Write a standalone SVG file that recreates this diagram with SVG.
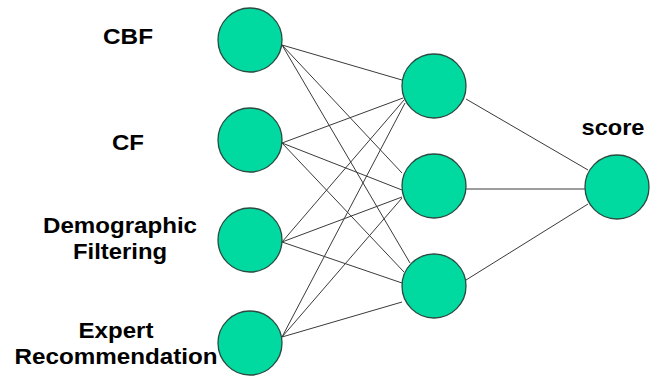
<svg xmlns="http://www.w3.org/2000/svg" width="660" height="376" viewBox="0 0 660 376">
<style>
.n{fill:#00D9A0;stroke:#2B4A40;stroke-width:1.3}
.t{font-family:"Liberation Sans",Arial,sans-serif;font-weight:bold;font-size:22px;fill:#000;text-anchor:middle}
.c line{stroke:#3a3a3a;stroke-width:1}
</style>
<rect width="660" height="376" fill="#fff"/>
<g class="c" id="connectors">
<line x1="282" y1="45" x2="402" y2="80"/>
<line x1="282" y1="45" x2="402" y2="173"/>
<line x1="282" y1="45" x2="410" y2="263"/>
<line x1="282" y1="143" x2="403" y2="98"/>
<line x1="282" y1="143" x2="402" y2="190"/>
<line x1="282" y1="143" x2="404" y2="272"/>
<line x1="282" y1="242" x2="404" y2="100"/>
<line x1="282" y1="242" x2="402" y2="197"/>
<line x1="282" y1="242" x2="402" y2="283"/>
<line x1="282" y1="337" x2="405" y2="103"/>
<line x1="282" y1="337" x2="402" y2="198"/>
<line x1="282" y1="337" x2="402" y2="302"/>
<line x1="466" y1="99" x2="588" y2="170"/>
<line x1="466" y1="189" x2="585" y2="189"/>
<line x1="466" y1="280" x2="588" y2="204"/>
</g>
<g id="in-cbf"><circle class="n" cx="250" cy="40" r="32"/><text class="t" x="128" y="44" textLength="50" lengthAdjust="spacingAndGlyphs">CBF</text></g>
<g id="in-cf"><circle class="n" cx="250" cy="140" r="32"/><text class="t" x="128" y="150" textLength="32" lengthAdjust="spacingAndGlyphs">CF</text></g>
<g id="in-demo"><circle class="n" cx="250" cy="240" r="32"/><text class="t" x="120" y="233" textLength="154" lengthAdjust="spacingAndGlyphs">Demographic</text><text class="t" x="120" y="259" textLength="94" lengthAdjust="spacingAndGlyphs">Filtering</text></g>
<g id="in-expert"><circle class="n" cx="250" cy="343" r="32"/><text class="t" x="116" y="338" textLength="75" lengthAdjust="spacingAndGlyphs">Expert</text><text class="t" x="116" y="364" textLength="203" lengthAdjust="spacingAndGlyphs">Recommendation</text></g>
<g id="h1"><circle class="n" cx="434" cy="86" r="32"/></g>
<g id="h2"><circle class="n" cx="434" cy="186" r="32"/></g>
<g id="h3"><circle class="n" cx="434" cy="286" r="32"/></g>
<g id="out"><circle class="n" cx="617" cy="187" r="32"/><text class="t" x="613" y="135" textLength="63" lengthAdjust="spacingAndGlyphs">score</text></g>
</svg>
